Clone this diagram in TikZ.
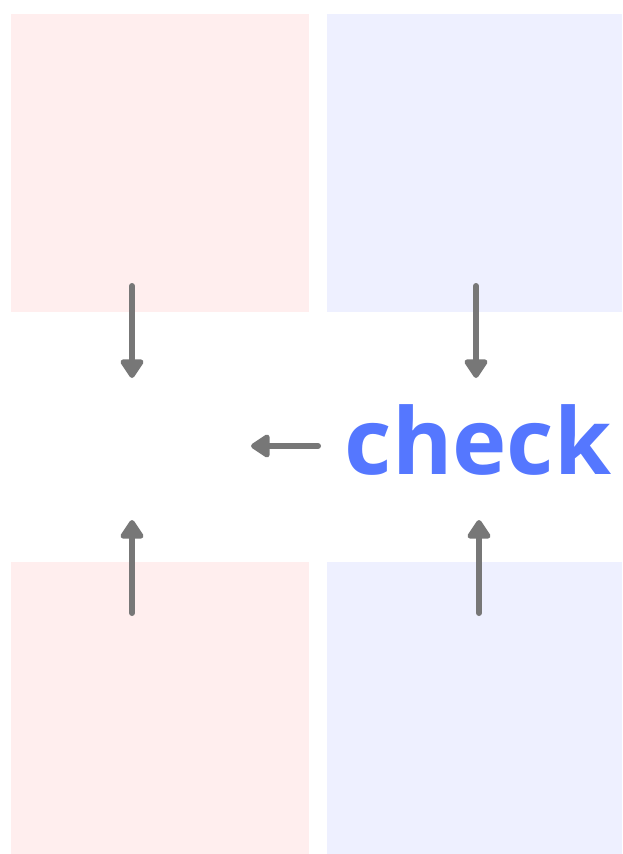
\documentclass[tikz,border=0pt]{standalone}
\usepackage{fontspec}
\setmainfont{Open Sans}
\usetikzlibrary{arrows.meta,positioning}
\definecolor{pinkbg}{HTML}{FFEEEE}
\definecolor{bluebg}{HTML}{EEF0FF}
\definecolor{arrowgray}{HTML}{777777}
\definecolor{checkblue}{HTML}{5577FF}
\begin{document}
\begin{tikzpicture}[x=1pt, y=-1pt,
    panel/.style={inner sep=0pt, anchor=north west},
    flow/.style={line width=6pt, arrowgray, line cap=round,
        -{Triangle[round, length=21pt, width=26pt]}}]
    \useasboundingbox (0,0) rectangle (622,854);

    % Draw the four panels
    \node[panel, fill=pinkbg, minimum width=298pt, minimum height=298pt] (redtop) at (11,14) {};
    \node[panel, fill=bluebg, minimum width=295pt, minimum height=298pt] (bluetop) at (327,14) {};
    \node[panel, fill=pinkbg, minimum width=298pt, minimum height=292pt] (redbot) at (11,562) {};
    \node[panel, fill=bluebg, minimum width=295pt, minimum height=292pt] (bluebot) at (327,562) {};

    % Add the label
    \node[anchor=base, inner sep=0pt, text=checkblue, font=\fontsize{92}{100}\selectfont\bfseries] (check) at (478,474) {check};

    % Arrow ends
    \coordinate (redtopout) at (132,286);
    \coordinate (bluetopout) at (476,286);
    \coordinate (redbotout) at (132,613);
    \coordinate (bluebotout) at (479,613);
    \coordinate (leftin) at (132,378);
    \coordinate (leftup) at (132,520);
    \coordinate (rightin) at (476,378);
    \coordinate (rightup) at (479,520);
    \coordinate (checkout) at (318,446);
    \coordinate (merge) at (251,446);

    % Draw arrows
    \draw[flow] (redtopout) -- (leftin);
    \draw[flow] (bluetopout) -- (rightin);
    \draw[flow] (redbotout) -- (leftup);
    \draw[flow] (bluebotout) -- (rightup);
    \draw[flow] (checkout) -- (merge);
\end{tikzpicture}
\end{document}
